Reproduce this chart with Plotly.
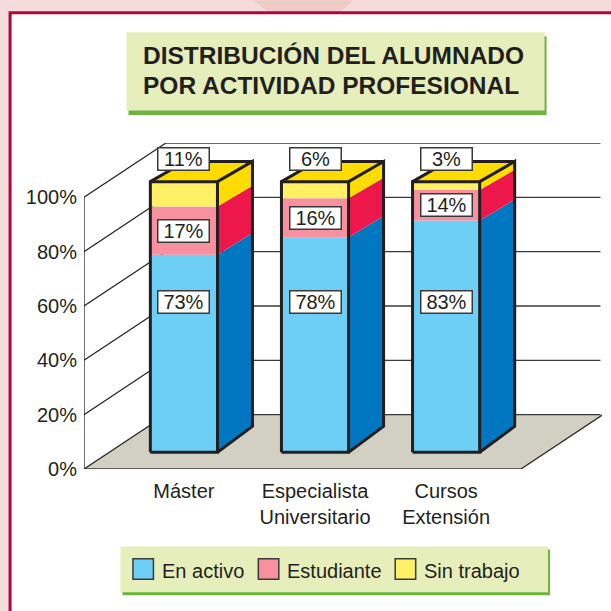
import plotly.graph_objects as go

# ---------- data ----------
categories = ["Máster", "Especialista<br>Universitario", "Cursos<br>Extensión"]
series_names = ["En activo", "Estudiante", "Sin trabajo"]
en_activo = [73.0, 79.4, 85.6]
estudiante = [17.8, 14.5, 11.3]
sin_trabajo = [9.2, 6.1, 3.1]
# Percentages as printed on the labels
label_activo = ["73%", "78%", "83%"]
label_estudiante = ["17%", "16%", "14%"]
label_sin_trabajo = ["11%", "6%", "3%"]
y_ticks = [0, 20, 40, 60, 80, 100]
y_tick_labels = ["0%", "20%", "40%", "60%", "80%", "100%"]
title_lines = ["DISTRIBUCIÓN DEL ALUMNADO", "POR ACTIVIDAD PROFESIONAL"]

# ---------- style ----------
FONT = "Liberation Sans, Arial, sans-serif"
INK = "#231F20"
FRONT = ["#6DCFF6", "#F7919F", "#FFF066"]
SIDE = ["#0077C0", "#ED174B", "#FFDC00"]
TOP = "#FFDC00"
FLOOR = "#D2D0C3"
PANEL = "#E6EEBB"
SHADOW = "#6DB33F"

# ---------- geometry ----------
W = H = 611
ML, MR, MT, MB = 83.5, 9.0, 143.0, 141.5
XR = [-0.762, 3.189]
YR = [0, 120]
WALL_DX, WALL_DY = 0.625, 20
FLOOR_R = 2.571
BAR_W = 0.512
BAR_DX = 0.267
BASE_F, SCALE_F = 6.18, 0.996
BASE_B, SCALE_B = 15.7, 0.975
BLUE_LABEL_Y, YELLOW_LABEL_Y = 61.6, 114.0


def px(v):
    return (v - ML) / (W - ML - MR)


def py(v):
    return (H - MB - v) / (H - MT - MB)


def rect(x0, y0, x1, y1, color, line=None, lw=0):
    return dict(type="rect", xref="paper", yref="paper", layer="below",
                x0=px(x0), y0=py(y0), x1=px(x1), y1=py(y1), fillcolor=color,
                line=dict(color=line or color, width=lw))


shapes = [
    rect(-5, -5, 620, 620, "#F4DCDA"),
    dict(type="path", xref="paper", yref="paper", layer="below", fillcolor="#EFCBC7",
         line=dict(width=0),
         path=f"M{px(253)},{py(0)} L{px(353)},{py(0)} L{px(340)},{py(12)} L{px(268)},{py(12)} Z"),
    rect(9.5, 12.5, 640, 640, "white", "#B0063A", 3),
    rect(128, 36, 546.5, 115, SHADOW),
    rect(126, 32, 544.5, 110.5, PANEL),
    rect(122, 550, 550, 596, SHADOW),
    rect(120, 547, 548, 593, PANEL),
]
# legend swatches
for x0, c in zip([132.5, 258, 395], FRONT):
    shapes.append(rect(x0, 559.5, x0 + 20.5, 580, c, "#3A3A3A", 1.5))

# floor
xl, xr = XR[0], FLOOR_R
shapes.append(dict(type="path", layer="below", xref="x", yref="y", fillcolor=FLOOR,
                   line=dict(width=0),
                   path=f"M{xl},0 L{xr},0 L{xr + WALL_DX},{WALL_DY} L{xl + WALL_DX},{WALL_DY} Z"))


def seg(x0, y0, x1, y1, width=1.3, color=INK):
    return dict(type="line", layer="below", xref="x", yref="y", x0=x0, y0=y0, x1=x1, y1=y1,
                line=dict(color=color, width=width))


for t in y_ticks:
    shapes.append(seg(xl, t, xl + WALL_DX, t + WALL_DY, 1.2))
    shapes.append(seg(xl + WALL_DX, t + WALL_DY, XR[1] - 0.012, t + WALL_DY, 1.4, "#3A3839"))
shapes.append(seg(xl, 0, xl, y_ticks[-1], 1.3))
shapes.append(seg(xl, 0, xr, 0, 1.6, "#3A3839"))
shapes.append(seg(xr, 0, xr + WALL_DX, WALL_DY, 1.2))

# ---------- traces ----------
fig = go.Figure()
positions = list(range(len(categories)))
stack = [en_activo, estudiante, sin_trabajo]
cum = [[0.0] * len(categories)]
for s in stack:
    cum.append([a + b for a, b in zip(cum[-1], s)])

for j, (name, s) in enumerate(zip(series_names, stack)):
    fig.add_trace(go.Bar(
        x=positions, y=[v * SCALE_F for v in s],
        base=[BASE_F + c * SCALE_F for c in cum[j]],
        width=BAR_W, marker=dict(color=FRONT[j], line=dict(width=0)),
        name=name, showlegend=False, hoverinfo="skip"))

for i in positions:
    xa = i + BAR_W / 2
    xb = xa + BAR_DX
    for j in range(3):
        fig.add_trace(go.Scatter(
            x=[xa, xb, xb, xa, xa],
            y=[BASE_F + cum[j][i] * SCALE_F, BASE_B + cum[j][i] * SCALE_B,
               BASE_B + cum[j + 1][i] * SCALE_B, BASE_F + cum[j + 1][i] * SCALE_F,
               BASE_F + cum[j][i] * SCALE_F],
            mode="lines", fill="toself", fillcolor=SIDE[j], line=dict(width=0),
            showlegend=False, hoverinfo="skip"))
    xf = i - BAR_W / 2
    top_f = BASE_F + cum[3][i] * SCALE_F
    top_b = BASE_B + cum[3][i] * SCALE_B
    fig.add_trace(go.Scatter(
        x=[xf, xa, xb, xf + BAR_DX, xf], y=[top_f, top_f, top_b, top_b, top_f],
        mode="lines", fill="toself", fillcolor=TOP, line=dict(width=0),
        showlegend=False, hoverinfo="skip"))
    fig.add_trace(go.Scatter(
        x=[xf, xa, xa, xf, xf, None, xa, xb, xb, xa, None, xf, xf + BAR_DX, xb, None],
        y=[BASE_F, BASE_F, top_f, top_f, BASE_F, None, BASE_F, BASE_B, top_b, top_f, None,
           top_f, top_b, top_b, None],
        mode="lines", line=dict(color=INK, width=3), showlegend=False, hoverinfo="skip"))

# ---------- annotations ----------
ann = []


def value_label(i, y, text):
    ann.append(dict(x=i, y=y, xref="x", yref="y", text=text, showarrow=False,
                    width=50, height=21, bgcolor="white", bordercolor="#3A3839", borderwidth=1.5,
                    borderpad=0, align="center", valign="middle",
                    font=dict(family=FONT, size=20, color=INK)))


for i in positions:
    value_label(i, BLUE_LABEL_Y, label_activo[i])
    mid = BASE_F + (cum[1][i] + cum[2][i]) / 2 * SCALE_F
    value_label(i, mid, label_estudiante[i])
    value_label(i, YELLOW_LABEL_Y, label_sin_trabajo[i])

for line, yc in zip(title_lines, [55, 85]):
    ann.append(dict(x=px(140.5), y=py(yc), xref="paper", yref="paper", text=f"<b>{line}</b>",
                    showarrow=False, xanchor="left", yanchor="middle", align="left",
                    font=dict(family=FONT, size=24.5, color=INK)))
for x0, name in zip([160, 285, 422], series_names):
    ann.append(dict(x=px(x0), y=py(572), xref="paper", yref="paper", text=name, showarrow=False,
                    xanchor="left", yanchor="middle",
                    font=dict(family=FONT, size=20, color=INK)))

fig.update_layout(
    width=W, height=H, margin=dict(l=ML, r=MR, t=MT, b=MB, pad=0),
    paper_bgcolor="white", plot_bgcolor="rgba(0,0,0,0)", barmode="overlay",
    showlegend=False, shapes=shapes, annotations=ann,
    font=dict(family=FONT, size=20, color=INK),
    xaxis=dict(range=XR, tickmode="array", tickvals=positions, ticktext=categories,
               showgrid=False, zeroline=False, showline=False, ticks="",
               ticklabelstandoff=8, tickfont=dict(family=FONT, size=20, color=INK)),
    yaxis=dict(range=YR, tickmode="array", tickvals=y_ticks, ticktext=y_tick_labels,
               showgrid=False, zeroline=False, showline=False, ticks="",
               ticklabelstandoff=6, tickfont=dict(family=FONT, size=20, color=INK)),
)

fig.write_html("out.html", config=dict(displayModeBar=False),
               post_script="document.body.style.margin='0';document.body.style.overflow='hidden';")
